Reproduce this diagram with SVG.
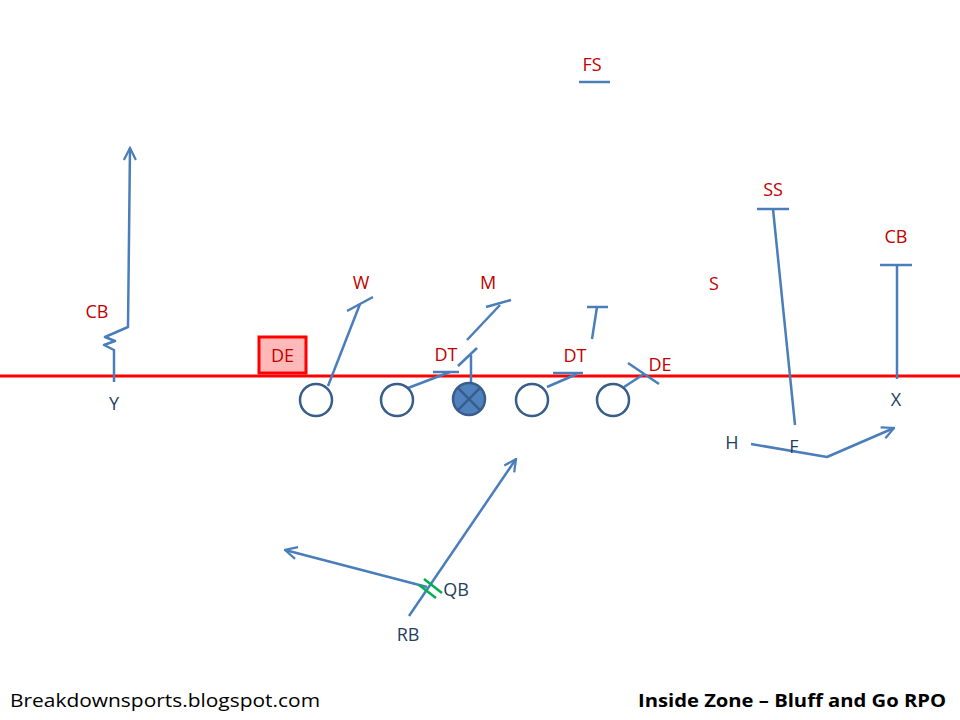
<svg xmlns="http://www.w3.org/2000/svg" width="960" height="720" viewBox="0 0 960 720">
<defs>
<marker id="arr" viewBox="0 0 10 10" refX="9" refY="5" markerWidth="6" markerHeight="6" markerUnits="strokeWidth" orient="auto">
<path d="M1,1 L9,5 L1,9" fill="none" stroke="#4a7ebb" stroke-width="1.5"/>
</marker>
<style>
.rt{fill:none;stroke:#4a7ebb;stroke-width:2.5;stroke-linecap:butt;stroke-linejoin:round}
.def{font-family:"Open Sans","Liberation Sans",Arial,sans-serif;font-size:18px;fill:#c00000;text-anchor:middle}
.off{font-family:"Open Sans","Liberation Sans",Arial,sans-serif;font-size:18px;fill:#243f60;text-anchor:middle}
.ol{fill:#ffffff;stroke:#385d8a;stroke-width:2.5}
.c{fill:#4f81bd;stroke:#385d8a;stroke-width:2.5}
.ft{font-family:"Open Sans","Liberation Sans",Arial,sans-serif;font-size:18px;fill:#000}
</style>
</defs>
<rect width="960" height="720" fill="#ffffff"/>

<g id="los"><line x1="0" y1="376" x2="960" y2="376" stroke="#ff0000" stroke-width="3"/></g>

<g id="connectors">
<polyline class="rt" points="114,382 114,350 104,345 115,341 105,337 128,327 130,148" marker-end="url(#arr)"/>
<line class="rt" x1="328" y1="386" x2="360" y2="304"/>
<line class="rt" x1="347" y1="311" x2="373" y2="297"/>
<line class="rt" x1="408" y1="388" x2="450" y2="372"/>
<line class="rt" x1="433" y1="372" x2="459" y2="372"/>
<line class="rt" x1="471" y1="383" x2="471" y2="355"/>
<line class="rt" x1="458" y1="366" x2="477" y2="348"/>
<line class="rt" x1="467" y1="340" x2="500" y2="305"/>
<line class="rt" x1="486" y1="307" x2="511" y2="300"/>
<line class="rt" x1="547" y1="387" x2="577" y2="374"/>
<line class="rt" x1="553" y1="373" x2="583" y2="373"/>
<line class="rt" x1="592" y1="339" x2="597" y2="307"/>
<line class="rt" x1="587" y1="307" x2="608" y2="307"/>
<line class="rt" x1="624" y1="387" x2="644" y2="374"/>
<line class="rt" x1="628" y1="363" x2="659" y2="384"/>
<line class="rt" x1="795" y1="425" x2="773" y2="209"/>
<line class="rt" x1="757" y1="209" x2="789" y2="209"/>
<line class="rt" x1="897" y1="379" x2="897" y2="265"/>
<line class="rt" x1="880" y1="265" x2="912" y2="265"/>
<line class="rt" x1="579" y1="82" x2="610" y2="82"/>
<polyline class="rt" points="751,444 827,457 894,428" marker-end="url(#arr)"/>
<line class="rt" x1="409" y1="616" x2="516" y2="459" marker-end="url(#arr)"/>
<line class="rt" x1="427" y1="587" x2="285" y2="550" marker-end="url(#arr)"/>
<line x1="419" y1="585" x2="436" y2="598" stroke="#00b050" stroke-width="2.5"/>
<line x1="424" y1="579" x2="442" y2="593" stroke="#00b050" stroke-width="2.5"/>
</g>

<g id="ol-lt"><circle class="ol" cx="316" cy="400" r="16"/></g>
<g id="ol-lg"><circle class="ol" cx="397" cy="400" r="16"/></g>
<g id="ol-c"><circle class="c" cx="469" cy="399" r="16"/>
<line x1="457.7" y1="387.7" x2="480.3" y2="410.3" stroke="#385d8a" stroke-width="2.5"/>
<line x1="480.3" y1="387.7" x2="457.7" y2="410.3" stroke="#385d8a" stroke-width="2.5"/></g>
<g id="ol-rg"><circle class="ol" cx="532" cy="400" r="16"/></g>
<g id="ol-rt"><circle class="ol" cx="613" cy="400" r="16"/></g>

<g id="de-left"><rect x="259" y="337" width="47" height="36" fill="#ffb9b9" stroke="#ff0000" stroke-width="3"/>
<text class="def" x="282.5" y="362">DE</text></g>

<g id="def-labels">
<text class="def" x="592" y="71">FS</text>
<text class="def" x="773" y="196">SS</text>
<text class="def" x="896" y="243">CB</text>
<text class="def" x="714" y="290">S</text>
<text class="def" x="97" y="318">CB</text>
<text class="def" x="361" y="289">W</text>
<text class="def" x="488" y="289">M</text>
<text class="def" x="446" y="361">DT</text>
<text class="def" x="575" y="362">DT</text>
<text class="def" x="660" y="371">DE</text>
</g>

<g id="off-labels">
<text class="off" x="114" y="410">Y</text>
<text class="off" x="896" y="406">X</text>
<text class="off" x="732" y="449">H</text>
<text class="off" x="794" y="453">F</text>
<text class="off" x="456" y="596">QB</text>
<text class="off" x="408" y="641">RB</text>
</g>

<g id="footer">
<text class="ft" x="10" y="707" textLength="310" lengthAdjust="spacingAndGlyphs">Breakdownsports.blogspot.com</text>
<text class="ft" x="638" y="707" font-weight="bold" textLength="308" lengthAdjust="spacingAndGlyphs">Inside Zone – Bluff and Go RPO</text>
</g>
</svg>
